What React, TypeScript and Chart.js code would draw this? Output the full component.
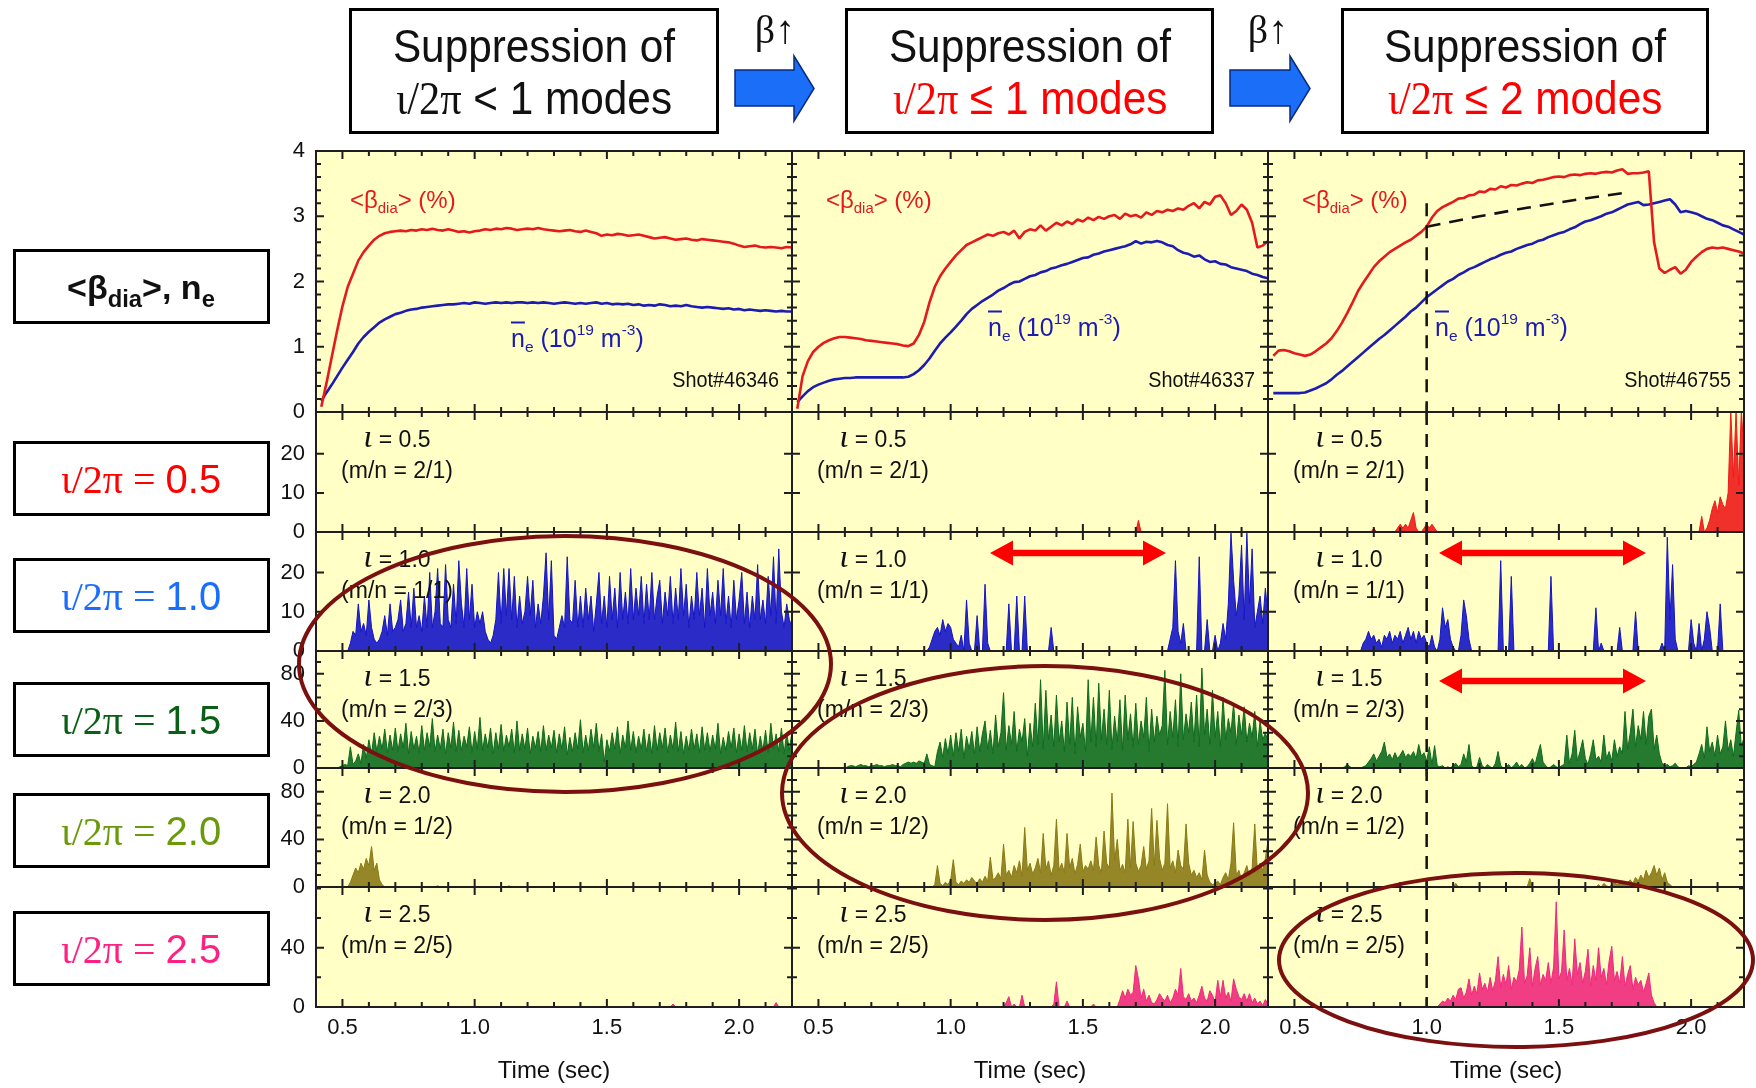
import React, { useEffect, useRef } from "react";
import { Chart, registerables } from "chart.js";

Chart.register(...registerables);

// ======================= DATA =======================
// top panels: sampled every TIME_STEP s starting at TIME_START
const TIME_START = 0.42;
const TIME_STEP = 0.02;
// fluctuation traces: segments sampled every SPIKE_STEP s
const SPIKE_STEP = 0.01;

const X_TICKS = [0.5, 1.0, 1.5, 2.0];
const Y_LABELS = [[0, 1, 2, 3, 4], [0, 10, 20], [0, 10, 20], [0, 40, 80], [0, 40, 80], [0, 40]];
const Y_MAX = [4, 30.7, 30.3, 99.4, 100, 81];
const SHOTS = ["Shot#46346", "Shot#46337", "Shot#46755"];
const IOTA_VALUES = ["0.5", "1.0", "1.5", "2.0", "2.5"];
const MN_VALUES = ["2/1", "1/1", "2/3", "1/2", "2/5"];
const MARK_TIME = 1.0;

// <beta_dia> (%)
const beta46346 = [0.08, 0.45, 0.85, 1.25, 1.62, 1.92, 2.12, 2.32, 2.45, 2.55, 2.64, 2.70, 2.74, 2.76, 2.77,
  2.78, 2.77, 2.79, 2.78, 2.80, 2.79, 2.81, 2.79, 2.78, 2.80, 2.78, 2.76, 2.77, 2.75, 2.77,
  2.78, 2.80, 2.79, 2.81, 2.80, 2.82, 2.81, 2.79, 2.80, 2.81, 2.80, 2.82, 2.80, 2.79, 2.78,
  2.77, 2.78, 2.79, 2.77, 2.76, 2.78, 2.76, 2.74, 2.70, 2.72, 2.71, 2.73, 2.72, 2.70, 2.71,
  2.72, 2.70, 2.68, 2.66, 2.67, 2.68, 2.66, 2.64, 2.65, 2.66, 2.64, 2.63, 2.65, 2.64, 2.63,
  2.62, 2.61, 2.60, 2.58, 2.55, 2.53, 2.54, 2.55, 2.53, 2.52, 2.53, 2.52, 2.51, 2.53, 2.52];
const beta46337 = [0.05, 0.55, 0.78, 0.92, 1.00, 1.06, 1.10, 1.13, 1.15, 1.15, 1.14, 1.13, 1.12, 1.10, 1.09,
  1.08, 1.07, 1.06, 1.05, 1.04, 1.02, 1.01, 1.05, 1.18, 1.38, 1.68, 1.92, 2.08, 2.20, 2.30,
  2.40, 2.48, 2.56, 2.60, 2.64, 2.68, 2.72, 2.70, 2.74, 2.76, 2.72, 2.78, 2.66, 2.76, 2.80,
  2.78, 2.86, 2.78, 2.84, 2.90, 2.86, 2.92, 2.88, 2.95, 2.92, 2.98, 2.94, 2.99, 2.96, 3.00,
  3.02, 2.96, 3.04, 3.00, 3.02, 2.98, 3.06, 3.02, 3.08, 3.06, 3.10, 3.08, 3.12, 3.10, 3.16,
  3.20, 3.12, 3.22, 3.18, 3.30, 3.32, 3.20, 3.02, 3.08, 3.18, 3.10, 2.90, 2.52, 2.55, 2.62];
const beta46755 = [0.86, 0.94, 0.95, 0.93, 0.90, 0.88, 0.86, 0.88, 0.93, 0.99, 1.05, 1.13, 1.24, 1.37, 1.52,
  1.68, 1.85, 1.98, 2.10, 2.22, 2.31, 2.38, 2.45, 2.50, 2.55, 2.60, 2.64, 2.70, 2.76, 2.84,
  2.98, 3.08, 3.14, 3.18, 3.22, 3.27, 3.28, 3.32, 3.33, 3.38, 3.37, 3.42, 3.41, 3.46, 3.44,
  3.48, 3.47, 3.50, 3.52, 3.51, 3.55, 3.56, 3.58, 3.60, 3.61, 3.60, 3.63, 3.64, 3.63, 3.65,
  3.66, 3.65, 3.67, 3.68, 3.67, 3.70, 3.72, 3.65, 3.66, 3.66, 3.67, 3.69, 2.60, 2.20, 2.13,
  2.18, 2.22, 2.12, 2.18, 2.30, 2.38, 2.45, 2.50, 2.52, 2.51, 2.52, 2.50, 2.48, 2.46, 2.43];

// line-averaged density n_e (10^19 m^-3)
const ne46346 = [0.17, 0.30, 0.42, 0.55, 0.68, 0.80, 0.92, 1.05, 1.15, 1.23, 1.30, 1.37, 1.42, 1.46, 1.50,
  1.52, 1.55, 1.57, 1.58, 1.60, 1.61, 1.62, 1.63, 1.64, 1.65, 1.65, 1.66, 1.67, 1.66, 1.68,
  1.67, 1.66, 1.67, 1.68, 1.67, 1.68, 1.67, 1.68, 1.68, 1.67, 1.68, 1.67, 1.68, 1.67, 1.66,
  1.67, 1.68, 1.67, 1.66, 1.67, 1.66, 1.67, 1.68, 1.66, 1.67, 1.65, 1.66, 1.65, 1.66, 1.64,
  1.65, 1.63, 1.64, 1.63, 1.65, 1.64, 1.62, 1.63, 1.62, 1.64, 1.62, 1.61, 1.60, 1.61, 1.60,
  1.59, 1.58, 1.59, 1.57, 1.58, 1.56, 1.57, 1.56, 1.55, 1.56, 1.55, 1.54, 1.55, 1.54, 1.54];
const ne46337 = [0.15, 0.24, 0.32, 0.38, 0.42, 0.45, 0.48, 0.50, 0.51, 0.52, 0.52, 0.53, 0.53, 0.53, 0.53,
  0.53, 0.53, 0.53, 0.53, 0.53, 0.53, 0.54, 0.58, 0.64, 0.72, 0.82, 0.94, 1.05, 1.14, 1.22,
  1.31, 1.40, 1.50, 1.58, 1.64, 1.70, 1.75, 1.80, 1.86, 1.90, 1.95, 1.99, 2.00, 2.04, 2.08,
  2.10, 2.14, 2.16, 2.20, 2.22, 2.25, 2.27, 2.30, 2.33, 2.36, 2.37, 2.41, 2.43, 2.46, 2.48,
  2.50, 2.52, 2.54, 2.57, 2.62, 2.58, 2.61, 2.60, 2.62, 2.60, 2.56, 2.54, 2.48, 2.44, 2.42,
  2.38, 2.40, 2.34, 2.30, 2.31, 2.27, 2.26, 2.22, 2.20, 2.18, 2.16, 2.12, 2.10, 2.07, 2.05];
const ne46755 = [0.29, 0.29, 0.29, 0.29, 0.29, 0.29, 0.30, 0.33, 0.36, 0.40, 0.44, 0.50, 0.57, 0.63, 0.70,
  0.77, 0.84, 0.91, 0.98, 1.05, 1.12, 1.18, 1.25, 1.32, 1.39, 1.46, 1.54, 1.60, 1.68, 1.76,
  1.82, 1.88, 1.94, 2.00, 2.04, 2.10, 2.14, 2.19, 2.22, 2.26, 2.30, 2.34, 2.37, 2.41, 2.44,
  2.46, 2.50, 2.53, 2.56, 2.58, 2.62, 2.64, 2.68, 2.71, 2.74, 2.76, 2.80, 2.83, 2.88, 2.92,
  2.94, 2.97, 3.00, 3.04, 3.06, 3.10, 3.14, 3.18, 3.20, 3.22, 3.17, 3.18, 3.20, 3.22, 3.24,
  3.26, 3.18, 3.06, 3.08, 3.06, 3.04, 3.00, 2.96, 2.94, 2.90, 2.86, 2.84, 2.80, 2.76, 2.72];

// dashed reference trend in shot 46755
const REF_T = [1.0, 1.2, 1.38, 1.56, 1.75];
const REF_V = [2.84, 3.0, 3.13, 3.25, 3.36];

// mode amplitudes: segments {t: start time, v: samples}
type Seg = { t: number; v: number[] };

const iota05_46346: Seg[] = [];
const iota05_46337: Seg[] = [{ t: 1.70, v: [0, 3, 0] }];
const iota05_46755: Seg[] = [
  { t: 0.78, v: [0, 0, 1, 0, 0, 0, 0, 0, 0, 0, 0, 1, 2, 1, 2, 1, 3, 5, 1, 0, 0, 1, 2, 1, 2, 1, 0] },
  { t: 2.02, v: [0, 0, 4, 0, 1, 3, 6, 8, 5, 9, 7, 6, 10, 31, 14, 31, 12, 31, 20] },
];

const iota10_46346: Seg[] = [{ t: 0.52, v: [0,
  2, 5, 4, 12, 5, 7, 4, 13, 6, 3,
  2, 3, 5, 9, 4, 12, 5, 6, 8, 13,
  5, 7, 15, 6, 16, 6, 9, 5, 14, 6,
  20, 6, 10, 21, 7, 6, 22, 8, 6, 17,
  7, 23, 12, 6, 21, 8, 17, 6, 10, 7,
  10, 5, 3, 2, 4, 8, 20, 7, 21, 9,
  21, 8, 19, 6, 14, 7, 10, 19, 9, 18,
  6, 12, 7, 14, 25, 8, 23, 4, 3, 6,
  9, 6, 24, 8, 7, 18, 6, 14, 6, 16,
  8, 14, 5, 12, 20, 7, 14, 6, 19, 8,
  16, 6, 20, 8, 15, 7, 21, 8, 16, 9,
  19, 7, 17, 8, 20, 8, 14, 18, 7, 15,
  9, 19, 7, 16, 8, 21, 9, 17, 6, 14,
  8, 20, 9, 16, 6, 21, 9, 15, 7, 18,
  9, 21, 7, 14, 6, 18, 8, 13, 20, 7,
  15, 6, 14, 8, 22, 8, 13, 7, 19, 9,
  24, 7, 26, 10, 6, 12, 8, 6] }];
const iota10_46337: Seg[] = [
  { t: 0.90, v: [0, 0, 1, 3, 5, 6, 4, 8, 5, 7, 6, 3, 2, 1, 4, 0, 13, 2, 0, 0, 9, 0, 0, 17, 2, 0] },
  { t: 1.21, v: [0, 12, 0, 0, 14, 0, 0, 14, 0] },
  { t: 1.37, v: [0, 6, 0] },
  { t: 1.82, v: [0, 3, 6, 23, 5, 2, 7, 0, 0, 0, 0, 0, 24, 0, 0, 8, 0, 0, 4, 0, 2, 7, 3, 12, 30, 18, 9, 14, 27, 8, 30, 12, 26, 6, 10, 14, 7, 16, 9] },
];
const iota10_46755: Seg[] = [
  { t: 0.75, v: [0, 2, 3, 5, 3, 4, 2, 3, 1, 4, 3, 5, 2, 4, 3, 5, 2, 4, 6, 3, 5, 2, 5, 3, 4, 2, 1, 4, 1, 0, 3, 11, 6, 8, 3, 1, 0, 0, 4, 13, 9, 3, 0] },
  { t: 1.27, v: [0, 23, 0, 0, 0, 19, 0] },
  { t: 1.46, v: [0, 19, 0] },
  { t: 1.63, v: [0, 11, 0, 2, 0] },
  { t: 1.72, v: [0, 6, 0] },
  { t: 1.78, v: [0, 10, 0] },
  { t: 1.88, v: [0, 2, 0, 29, 8, 22, 3, 0] },
  { t: 1.99, v: [0, 8, 2, 0, 7, 0, 3, 10, 6, 0, 0, 0, 12, 0] },
];

const iota15_46346: Seg[] = [{ t: 0.48, v: [0,
  1, 2, 3, 2, 18, 3, 6, 12, 4, 20,
  8, 24, 12, 30, 14, 27, 16, 33, 13, 28,
  15, 34, 14, 29, 17, 38, 12, 31, 16, 27,
  13, 36, 15, 30, 18, 42, 14, 28, 16, 33,
  12, 30, 17, 39, 14, 32, 15, 27, 18, 35,
  13, 31, 16, 43, 15, 29, 17, 34, 12, 30,
  16, 37, 14, 28, 18, 33, 13, 40, 15, 29,
  16, 34, 12, 27, 17, 31, 14, 36, 15, 28,
  17, 32, 13, 29, 16, 35, 11, 26, 14, 30,
  16, 41, 13, 28, 15, 33, 17, 38, 14, 29,
  5, 24, 14, 30, 16, 35, 12, 28, 17, 40,
  15, 31, 13, 27, 16, 33, 14, 29, 12, 36,
  15, 30, 17, 34, 13, 28, 16, 39, 14, 31,
  12, 27, 15, 33, 16, 29, 13, 35, 15, 30,
  14, 28, 16, 38, 12, 26, 15, 31, 17, 34,
  13, 29, 15, 36, 14, 30, 16, 33, 12, 27,
  15, 32, 13, 38, 16, 29, 14, 34, 12, 30,
  15, 31] }];
const iota15_46337: Seg[] = [{ t: 0.60, v: [
  0, 1, 2, 2, 1, 2, 3, 2, 2, 1,
  2, 2, 3, 2, 2, 1, 2, 2, 3, 2,
  2, 1, 3, 4, 5, 4, 5, 4, 6, 5,
  4, 12, 3, 2, 1, 14, 22, 9, 25, 12,
  28, 10, 30, 14, 33, 8, 27, 16, 31, 12,
  35, 14, 29, 40, 16, 32, 12, 45, 18, 30,
  64, 15, 36, 20, 48, 14, 33, 22, 42, 10,
  38, 18, 55, 20, 75, 16, 66, 24, 45, 18,
  62, 22, 40, 14, 56, 20, 60, 12, 52, 26,
  38, 14, 75, 22, 60, 18, 72, 24, 50, 20,
  66, 16, 44, 22, 58, 15, 62, 24, 46, 18,
  55, 20, 40, 26, 60, 14, 50, 22, 44, 28,
  36, 83, 20, 48, 26, 58, 18, 80, 24, 46,
  30, 56, 22, 62, 18, 85, 28, 50, 20, 66,
  26, 48, 18, 60, 24, 42, 30, 55, 20, 45,
  28, 52, 22, 38, 26, 48, 18, 40, 24, 30,
  22] }];
const iota15_46755: Seg[] = [{ t: 0.68, v: [
  0, 1, 3, 1, 0, 0, 0, 0, 1, 2,
  5, 8, 12, 6, 10, 14, 22, 9, 12, 7,
  13, 8, 11, 15, 9, 12, 10, 14, 8, 20,
  10, 13, 6, 18, 3, 19, 2, 1, 2, 0,
  1, 0, 2, 4, 1, 3, 12, 5, 20, 2,
  0, 1, 9, 2, 0, 3, 1, 0, 4, 14,
  2, 0, 1, 3, 0, 2, 5, 1, 3, 0,
  1, 4, 8, 3, 12, 20, 5, 2, 0, 1,
  3, 1, 0, 2, 3, 28, 4, 12, 32, 6,
  14, 24, 8, 3, 12, 24, 7, 10, 5, 28,
  8, 14, 6, 24, 10, 18, 12, 48, 16, 30,
  50, 18, 36, 24, 48, 20, 44, 50, 16, 28,
  12, 4, 2, 3, 1, 2, 4, 1, 0, 0,
  0, 2, 1, 3, 5, 12, 20, 8, 35, 14,
  22, 10, 28, 12, 18, 40, 15, 24, 10, 30,
  49, 18, 26] }];

const iota20_46346: Seg[] = [
  { t: 0.52, v: [0, 4, 10, 16, 12, 20, 15, 24, 18, 34, 14, 20, 6, 2, 0] },
  { t: 0.85, v: [0, 1, 0] },
  { t: 1.12, v: [0, 1, 0] },
];
const iota20_46337: Seg[] = [{ t: 0.93, v: [
  0, 2, 18, 3, 1, 4, 2, 6, 23, 4,
  2, 5, 3, 6, 4, 8, 5, 3, 7, 4,
  9, 5, 25, 6, 8, 12, 7, 36, 10, 14,
  8, 18, 12, 22, 9, 50, 14, 20, 11, 16,
  24, 12, 45, 15, 22, 10, 18, 57, 14, 20,
  12, 45, 16, 24, 11, 19, 36, 13, 18, 15,
  22, 14, 42, 18, 12, 47, 20, 16, 79, 22,
  40, 14, 19, 12, 57, 16, 55, 20, 13, 18,
  34, 15, 22, 66, 18, 56, 24, 14, 20, 70,
  16, 22, 12, 31, 18, 15, 53, 20, 10, 14,
  8, 12, 6, 31, 10, 4, 2, 3, 5, 2,
  8, 12, 6, 20, 54, 10, 14, 6, 12, 18,
  9, 16, 53, 12, 20, 14, 24, 39] }];
const iota20_46755: Seg[] = [
  { t: 1.10, v: [0, 3, 0] },
  { t: 1.38, v: [0, 7, 0] },
  { t: 1.64, v: [0, 2, 0, 3, 1, 0, 2, 4, 2, 3, 5, 2, 4, 6, 3, 8, 5, 10, 6, 14, 8, 12, 18, 10, 16, 6, 12, 4, 2, 0] },
];

const iota25_46346: Seg[] = [
  { t: 1.74, v: [0, 2, 0] },
  { t: 2.13, v: [0, 3, 0] },
];
const iota25_46337: Seg[] = [
  { t: 1.20, v: [0, 3, 7, 0, 2, 0, 0, 8, 0] },
  { t: 1.38, v: [0, 2, 17, 0, 0, 0, 4, 0] },
  { t: 1.53, v: [0, 2, 0] },
  { t: 1.63, v: [
    0, 5, 11, 6, 12, 8, 10, 28, 19, 6,
    12, 4, 8, 3, 2, 5, 9, 6, 4, 8,
    3, 6, 12, 8, 26, 7, 5, 9, 4, 6,
    3, 8, 14, 6, 4, 11, 8, 3, 18, 7,
    18, 6, 10, 4, 19, 12, 7, 5, 9, 4,
    9, 3, 6, 2, 4, 1, 5, 2] },
];
const iota25_46755: Seg[] = [{ t: 1.04, v: [
  0, 2, 4, 3, 6, 4, 8, 5, 12, 13,
  6, 10, 19, 8, 14, 9, 23, 12, 16, 10,
  20, 11, 18, 34, 13, 22, 15, 28, 12, 20,
  17, 25, 54, 16, 21, 40, 14, 26, 34, 15,
  22, 18, 30, 16, 27, 71, 19, 24, 52, 18,
  26, 15, 46, 22, 30, 16, 24, 39, 14, 28,
  18, 40, 20, 26, 15, 31, 41, 18, 24, 16,
  34, 14, 22, 28, 12, 20, 15, 18, 10, 16,
  23, 8, 3, 0] }];

const BETA = [beta46346, beta46337, beta46755];
const NE = [ne46346, ne46337, ne46755];
const MODES: Seg[][][] = [
  [iota05_46346, iota05_46337, iota05_46755],
  [iota10_46346, iota10_46337, iota10_46755],
  [iota15_46346, iota15_46337, iota15_46755],
  [iota20_46346, iota20_46337, iota20_46755],
  [iota25_46346, iota25_46337, iota25_46755],
];

// ======================= STYLE / LAYOUT =======================
const W = 1756;
const H = 1088;
const COLX = [316, 792, 1268, 1744];
const ROWY = [151, 412, 532, 651, 768, 887, 1007];
const PAD_L = 4, PAD_R = 4, PAD_T = 34, PAD_B = 34;
const AXIS_W = 70, AXIS_H = 80;
const PANEL_BG = "#FFFFC6";
const FRAME = "#1E1E1E";
const BETA_COLOR = "#E41A1C";
const NE_COLOR = "#1C1CB0";
const MODE_COLORS = ["#EE1A1A", "#1414C8", "#0D6B1F", "#8A7A16", "#F0287C"];
const BOX_COLORS = ["#FF0000", "#1A6DFF", "#0B5E16", "#6A9A0C", "#FF2084"];
const SANS = '"Liberation Sans", Arial, Helvetica, sans-serif';
const SERIF = '"Liberation Serif", "Times New Roman", serif';
const CANVAS_SANS = "'Liberation Sans', Arial, sans-serif";
// y tick marks (inside): major values and minor step per row
const Y_MARKS = [
  { major: [1, 2, 3], minor: 0.2 },
  { major: [10, 20], minor: 0 },
  { major: [10, 20], minor: 0 },
  { major: [40, 80], minor: 10 },
  { major: [40, 80], minor: 10 },
  { major: [40], minor: 20 },
];

function evenSeries(start: number, step: number, values: number[]) {
  return values.map((v, i) => ({ x: +(start + i * step).toFixed(3), y: v }));
}
function segSeries(segs: Seg[]) {
  const pts: { x: number; y: number }[] = [];
  segs.forEach((s) => s.v.forEach((v, i) => pts.push({ x: +(s.t + i * SPIKE_STEP).toFixed(3), y: v })));
  return pts;
}

function buildDatasets(row: number, col: number): any[] {
  if (row === 0) {
    const ds: any[] = [
      { data: evenSeries(TIME_START, TIME_STEP, BETA[col]), borderColor: BETA_COLOR, borderWidth: 2.6, fill: false },
      { data: evenSeries(TIME_START, TIME_STEP, NE[col]), borderColor: NE_COLOR, borderWidth: 2.6, fill: false },
    ];
    if (col === 2) {
      ds.push({
        data: REF_T.map((t, i) => ({ x: t, y: REF_V[i] })),
        borderColor: "#111", borderWidth: 2.6, borderDash: [14, 9], fill: false,
      });
    }
    return ds;
  }
  const color = MODE_COLORS[row - 1];
  return [{
    data: segSeries(MODES[row - 1][col]), borderColor: color, backgroundColor: color + "E6",
    borderWidth: 1, fill: "origin",
  }];
}

function makeDecor(row: number, col: number) {
  return {
    id: "decor",
    beforeDatasetsDraw(chart: any) {
      const { ctx, chartArea: a } = chart;
      ctx.save();
      ctx.fillStyle = PANEL_BG;
      ctx.fillRect(a.left, a.top, a.right - a.left, a.bottom - a.top);
      ctx.restore();
    },
    afterDatasetsDraw(chart: any) {
      const { ctx, chartArea: a, scales } = chart;
      const xs = scales.x, ys = scales.y;
      ctx.save();
      if (col === 2) {
        const px = xs.getPixelForValue(MARK_TIME);
        const yTop = row === 0 ? ys.getPixelForValue(3.2) : a.top;
        ctx.strokeStyle = "#111";
        ctx.lineWidth = 2.5;
        ctx.setLineDash([13, 9]);
        ctx.beginPath();
        ctx.moveTo(px, yTop);
        ctx.lineTo(px, a.bottom);
        ctx.stroke();
        ctx.setLineDash([]);
      }
      ctx.strokeStyle = FRAME;
      ctx.lineWidth = 2;
      ctx.beginPath();
      for (let k = 4; k <= 22; k++) {
        const px = xs.getPixelForValue(k / 10);
        const L = k % 5 === 0 ? 8 : 5;
        ctx.moveTo(px, a.bottom); ctx.lineTo(px, a.bottom - L);
        ctx.moveTo(px, a.top); ctx.lineTo(px, a.top + L);
      }
      const marks = Y_MARKS[row];
      const yTick = (v: number, L: number) => {
        const py = ys.getPixelForValue(v);
        ctx.moveTo(a.left, py); ctx.lineTo(a.left + L, py);
        ctx.moveTo(a.right, py); ctx.lineTo(a.right - L, py);
      };
      if (marks.minor > 0) {
        for (let k = 1; k * marks.minor < Y_MAX[row] - 1e-6; k++) {
          const v = +(k * marks.minor).toFixed(4);
          if (!marks.major.some((m) => Math.abs(m - v) < 1e-6)) yTick(v, 5);
        }
      }
      marks.major.forEach((v) => yTick(v, 8));
      ctx.stroke();
      ctx.strokeRect(a.left, a.top, a.right - a.left, a.bottom - a.top);
      ctx.restore();
    },
  };
}

function Panel({ row, col }: { row: number; col: number }) {
  const ref = useRef<HTMLCanvasElement | null>(null);
  const showY = col === 0;
  const showX = row === 5;
  const x0 = COLX[col], x1 = COLX[col + 1], y0 = ROWY[row], y1 = ROWY[row + 1];
  const left = x0 - PAD_L - (showY ? AXIS_W : 0);
  const top = y0 - PAD_T;
  const width = x1 - x0 + PAD_L + PAD_R + (showY ? AXIS_W : 0);
  const height = y1 - y0 + PAD_T + PAD_B + (showX ? AXIS_H : 0);

  useEffect(() => {
    const canvas = ref.current;
    if (!canvas) return;
    const tickFont = { family: CANVAS_SANS, size: 22 };
    const chart = new Chart(canvas, {
      type: "line",
      data: { datasets: buildDatasets(row, col) },
      options: {
        responsive: false,
        maintainAspectRatio: false,
        animation: false,
        devicePixelRatio: 1,
        events: [],
        layout: { padding: { left: PAD_L, right: PAD_R, top: PAD_T, bottom: PAD_B } },
        plugins: { legend: { display: false }, tooltip: { enabled: false } },
        elements: { point: { radius: 0 }, line: { tension: 0, borderJoinStyle: "bevel" } },
        scales: {
          x: {
            type: "linear", min: 0.4, max: 2.2, display: showX,
            grid: { display: false, drawTicks: false }, border: { display: false },
            afterBuildTicks: (s: any) => { s.ticks = X_TICKS.map((v) => ({ value: v })); },
            afterFit: showX ? (s: any) => { s.height = AXIS_H; } : undefined,
            ticks: {
              padding: 8, color: "#111", font: tickFont, maxRotation: 0, autoSkip: false,
              callback: (v: any) => Number(v).toFixed(1),
            },
            title: {
              display: showX, text: "Time (sec)", color: "#111",
              font: { family: CANVAS_SANS, size: 24 }, padding: { top: 0, bottom: 1 },
            },
          },
          y: {
            type: "linear", min: 0, max: Y_MAX[row], display: showY,
            grid: { display: false, drawTicks: false }, border: { display: false },
            afterBuildTicks: (s: any) => { s.ticks = Y_LABELS[row].map((v) => ({ value: v })); },
            afterFit: showY ? (s: any) => { s.width = AXIS_W; } : undefined,
            ticks: { padding: 11, color: "#111", font: tickFont, autoSkip: false, callback: (v: any) => String(v) },
          },
        },
      } as any,
      plugins: [makeDecor(row, col)],
    });
    return () => chart.destroy();
  }, [row, col]);

  return (
    <canvas
      ref={ref}
      width={width}
      height={height}
      style={{ position: "absolute", left, top, width, height }}
    />
  );
}

function Txt(props: {
  x: number; y: number; anchor?: "left" | "center" | "right"; size: number; color?: string;
  family?: string; weight?: number | string; sx?: number; children: React.ReactNode;
}) {
  const { x, y, anchor = "center", size, color = "#111", family = SANS, weight = "normal", sx = 1, children } = props;
  const tx = anchor === "left" ? "0%" : anchor === "right" ? "-100%" : "-50%";
  return (
    <div
      style={{
        position: "absolute", left: x, top: y, fontSize: size, color, fontFamily: family, fontWeight: weight,
        lineHeight: 1, whiteSpace: "nowrap", transformOrigin: "0 0",
        transform: `scaleX(${sx}) translate(${tx}, -50%)`,
      }}
    >
      {children}
    </div>
  );
}

const sub = (s: string, size = "0.62em") => (
  <span style={{ fontSize: size, verticalAlign: "-0.35em", lineHeight: 0 }}>{s}</span>
);
const sup = (s: string) => (
  <span style={{ fontSize: "0.62em", verticalAlign: "0.75em", lineHeight: 0 }}>{s}</span>
);

function dblArrow(x1: number, x2: number, y: number) {
  const hl = 23, hh = 12.5, st = 3.3;
  return [
    [x1, y], [x1 + hl, y - hh], [x1 + hl, y - st], [x2 - hl, y - st], [x2 - hl, y - hh], [x2, y],
    [x2 - hl, y + hh], [x2 - hl, y + st], [x1 + hl, y + st], [x1 + hl, y + hh],
  ].map((p) => p.join(",")).join(" ");
}
function blockArrow(x0: number, xb: number, xt: number) {
  return [[x0, 70], [xb, 70], [xb, 56], [xt, 88.5], [xb, 121], [xb, 106], [x0, 106]]
    .map((p) => p.join(",")).join(" ");
}

const LEFT_BOX_TOPS = [249, 441, 558, 682, 793, 911];
const TOP_BOXES = [
  { left: 349, width: 370, rel: "<", n: "1", red: false },
  { left: 845, width: 369, rel: "≤", n: "1", red: true },
  { left: 1341, width: 368, rel: "≤", n: "2", red: true },
];
const NE_LABEL = [{ x: 511, y: 338 }, { x: 988, y: 327 }, { x: 1435, y: 327 }];

export default function App() {
  const panels: React.ReactNode[] = [];
  for (let r = 0; r < 6; r++) for (let c = 0; c < 3; c++) panels.push(<Panel key={`${r}-${c}`} row={r} col={c} />);

  return (
    <div style={{ position: "absolute", left: 0, top: 0, width: W, height: H, background: "#fff", overflow: "hidden", fontFamily: SANS }}>
      {panels}

      {/* panel annotations */}
      {[0, 1, 2].map((c) => (
        <React.Fragment key={`ann${c}`}>
          <Txt x={COLX[c] + 34} y={200} anchor="left" size={24} color={BETA_COLOR}>
            &lt;β{sub("dia")}&gt; (%)
          </Txt>
          <Txt x={NE_LABEL[c].x} y={NE_LABEL[c].y} anchor="left" size={25} color={NE_COLOR}>
            <span style={{ textDecoration: "overline" }}>n</span>{sub("e")} (10{sup("19")} m{sup("-3")})
          </Txt>
          <Txt x={COLX[c + 1] - 13} y={380} anchor="right" size={22} sx={0.9}>
            {SHOTS[c]}
          </Txt>
          {IOTA_VALUES.map((iv, k) => (
            <React.Fragment key={`m${c}-${k}`}>
              <Txt x={COLX[c] + 81} y={ROWY[k + 1] + 27} size={23}>
                <span style={{ fontFamily: SERIF, fontStyle: "italic", fontSize: "1.4em", lineHeight: 0 }}>ι</span> = {iv}
              </Txt>
              <Txt x={COLX[c] + 81} y={ROWY[k + 1] + 58} size={23}>
                (m/n = {MN_VALUES[k]})
              </Txt>
            </React.Fragment>
          ))}
        </React.Fragment>
      ))}

      {/* overlay shapes */}
      <svg width={W} height={H} style={{ position: "absolute", left: 0, top: 0, pointerEvents: "none" }}>
        <polygon points={blockArrow(735, 794, 814)} fill="#1A6EF7" stroke="#0A2A80" strokeWidth={1.5} />
        <polygon points={blockArrow(1230, 1290, 1310)} fill="#1A6EF7" stroke="#0A2A80" strokeWidth={1.5} />
        <ellipse cx={565} cy={664} rx={266} ry={128} fill="none" stroke="#7B1010" strokeWidth={4} />
        <ellipse cx={1045} cy={793} rx={263} ry={127} fill="none" stroke="#7B1010" strokeWidth={4} />
        <ellipse cx={1516} cy={960} rx={237} ry={87} fill="none" stroke="#7B1010" strokeWidth={4} />
        <polygon points={dblArrow(990, 1166, 553)} fill="#FF0000" />
        <polygon points={dblArrow(1439, 1646, 553)} fill="#FF0000" />
        <polygon points={dblArrow(1439, 1646, 681)} fill="#FF0000" />
      </svg>

      {/* β↑ labels */}
      <Txt x={775} y={30} size={40} family={SERIF}>β↑</Txt>
      <Txt x={1268} y={30} size={40} family={SERIF}>β↑</Txt>

      {/* top boxes */}
      {TOP_BOXES.map((b, i) => (
        <React.Fragment key={`tb${i}`}>
          <div style={{ position: "absolute", left: b.left, top: 8, width: b.width, height: 126, border: "3px solid #000", boxSizing: "border-box", background: "#fff" }} />
          <Txt x={b.left + b.width / 2} y={45} size={47} sx={0.9}>Suppression of</Txt>
          <Txt x={b.left + b.width / 2} y={98} size={47} sx={0.9} color={b.red ? "#FF0000" : "#111"}>
            <span style={{ fontFamily: SERIF }}>ι/2π</span> {b.rel} {b.n} modes
          </Txt>
        </React.Fragment>
      ))}

      {/* left boxes */}
      {LEFT_BOX_TOPS.map((t, i) => (
        <div key={`lb${i}`} style={{ position: "absolute", left: 13, top: t, width: 257, height: 75, border: "3px solid #000", boxSizing: "border-box", background: "#fff" }} />
      ))}
      <Txt x={141} y={287} size={34} weight="bold">
        &lt;β{sub("dia", "0.7em")}&gt;, n{sub("e", "0.7em")}
      </Txt>
      {IOTA_VALUES.map((iv, k) => (
        <Txt key={`lbt${k}`} x={141} y={LEFT_BOX_TOPS[k + 1] + 38} size={40} color={BOX_COLORS[k]}>
          <span style={{ fontFamily: SERIF }}>ι/2π = </span>{iv}
        </Txt>
      ))}
    </div>
  );
}
